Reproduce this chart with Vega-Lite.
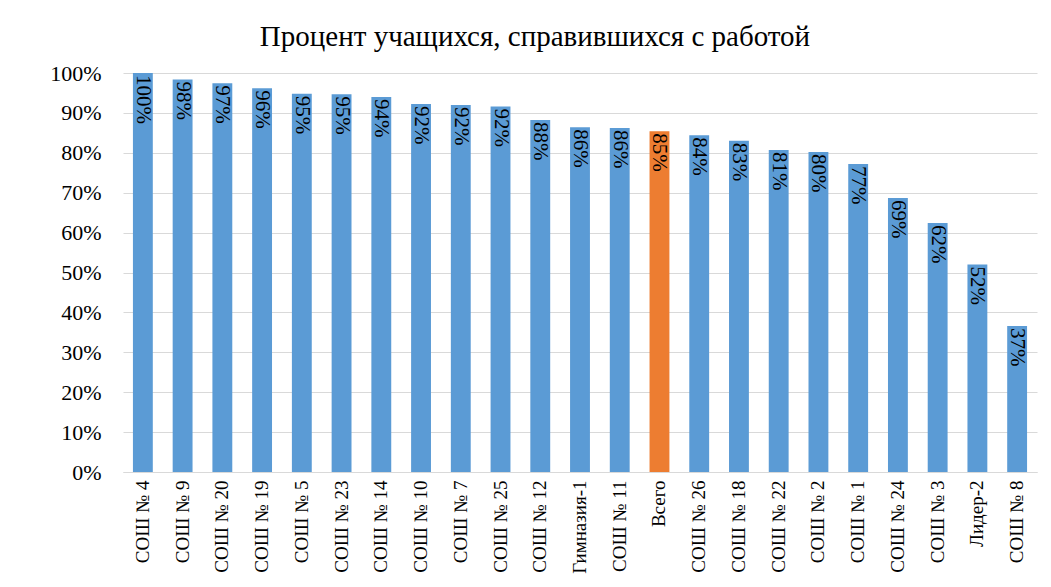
{
  "$schema": "https://vega.github.io/schema/vega-lite/v6.json",
  "autosize": {"type": "none"},
  "width": 914,
  "height": 399,
  "padding": {"left": 123, "top": 73, "right": 14, "bottom": 115},
  "background": "white",
  "title": {
    "text": "Процент учащихся, справившихся с работой",
    "font": "Liberation Serif",
    "fontSize": 29,
    "fontWeight": "normal",
    "color": "#000000",
    "anchor": "middle",
    "dx": -45,
    "offset": 10
  },
  "data": {
    "values": [
      {"school": "СОШ № 4", "value": 1.000, "kind": "school"},
      {"school": "СОШ № 9", "value": 0.984, "kind": "school"},
      {"school": "СОШ № 20", "value": 0.974, "kind": "school"},
      {"school": "СОШ № 19", "value": 0.962, "kind": "school"},
      {"school": "СОШ № 5", "value": 0.948, "kind": "school"},
      {"school": "СОШ № 23", "value": 0.947, "kind": "school"},
      {"school": "СОШ № 14", "value": 0.940, "kind": "school"},
      {"school": "СОШ № 10", "value": 0.922, "kind": "school"},
      {"school": "СОШ № 7", "value": 0.920, "kind": "school"},
      {"school": "СОШ № 25", "value": 0.916, "kind": "school"},
      {"school": "СОШ № 12", "value": 0.882, "kind": "school"},
      {"school": "Гимназия-1", "value": 0.864, "kind": "school"},
      {"school": "СОШ № 11", "value": 0.862, "kind": "school"},
      {"school": "Всего", "value": 0.854, "kind": "total"},
      {"school": "СОШ № 26", "value": 0.844, "kind": "school"},
      {"school": "СОШ № 18", "value": 0.830, "kind": "school"},
      {"school": "СОШ № 22", "value": 0.807, "kind": "school"},
      {"school": "СОШ № 2", "value": 0.802, "kind": "school"},
      {"school": "СОШ № 1", "value": 0.772, "kind": "school"},
      {"school": "СОШ № 24", "value": 0.687, "kind": "school"},
      {"school": "СОШ № 3", "value": 0.624, "kind": "school"},
      {"school": "Лидер-2", "value": 0.520, "kind": "school"},
      {"school": "СОШ № 8", "value": 0.366, "kind": "school"}
    ]
  },
  "encoding": {
    "x": {
      "field": "school",
      "type": "nominal",
      "sort": null,
      "scale": {"paddingInner": 0.5, "paddingOuter": 0.25},
      "axis": {
        "title": null,
        "labelAngle": -90,
        "labelFont": "Liberation Serif",
        "labelFontSize": 19,
        "labelColor": "#000000",
        "labelPadding": 8,
        "ticks": false,
        "domainColor": "#d9d9d9",
        "labelLimit": 200
      }
    },
    "y": {
      "field": "value",
      "type": "quantitative",
      "scale": {"domain": [0, 1], "nice": false},
      "axis": {
        "title": null,
        "format": ".0%",
        "values": [0, 0.1, 0.2, 0.3, 0.4, 0.5, 0.6, 0.7, 0.8, 0.9, 1],
        "labelOverlap": false,
        "labelFont": "Liberation Serif",
        "labelFontSize": 22,
        "labelColor": "#000000",
        "labelPadding": 22,
        "ticks": false,
        "domain": false,
        "gridColor": "#d9d9d9",
        "gridWidth": 1
      }
    }
  },
  "layer": [
    {
      "mark": {"type": "bar"},
      "encoding": {
        "color": {
          "field": "kind",
          "type": "nominal",
          "scale": {"domain": ["school", "total"], "range": ["#5b9bd5", "#ed7d31"]},
          "legend": null
        }
      }
    },
    {
      "mark": {
        "type": "text",
        "angle": 90,
        "align": "left",
        "baseline": "middle",
        "dx": 2,
        "font": "Liberation Serif",
        "fontSize": 21,
        "color": "#000000"
      },
      "encoding": {
        "text": {"field": "value", "type": "quantitative", "format": ".0%"}
      }
    }
  ],
  "config": {
    "view": {"stroke": null}
  }
}
